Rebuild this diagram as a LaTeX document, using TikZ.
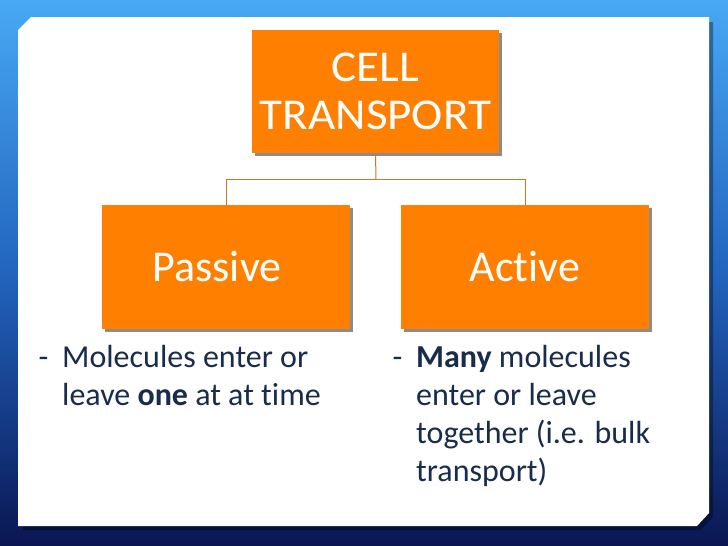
\documentclass[tikz,border=0pt]{standalone}
\usepackage{fontspec}
\usepackage{graphicx}
\setmainfont{Carlito}[Ligatures=NoCommon]
\usetikzlibrary{shadows}
\definecolor{boxorange}{RGB}{255,128,0}
\definecolor{linebrown}{RGB}{196,120,50}
\definecolor{textnavy}{RGB}{24,44,76}
\definecolor{bgtop}{RGB}{72,168,244}
\definecolor{bgmid}{RGB}{34,100,190}
\definecolor{bgbot}{RGB}{10,22,82}
\tikzset{
  orangebox/.style={draw=none, fill=boxorange, minimum width=248pt, minimum height=124pt,
    inner sep=0pt, text=white, align=center, font=\fontsize{44}{48}\selectfont,
    drop shadow={shadow xshift=3pt, shadow yshift=-3pt, fill=black, opacity=.45}},
  connector/.style={draw=linebrown, line width=1pt},
  bodytext/.style={anchor=base west, inner sep=0pt, text=textnavy, align=left,
    font=\fontsize{32}{38}\selectfont}
}
\begin{document}
\begin{tikzpicture}[x=1pt,y=-1pt]
\useasboundingbox (0,0) rectangle (728,546);
% background
\shade[top color=bgtop, bottom color=bgbot, middle color=bgmid] (0,0) rectangle (728,546);
% panel shadow
\fill[black, opacity=.35] (23,35) -- (36,22) -- (713,22) -- (713,517) -- (701,530) -- (23,530) -- cycle;
% panel
\fill[white] (18,30) -- (31,17) -- (709,17) -- (709,513) -- (697,526) -- (18,526) -- cycle;
% boxes
\node[orangebox, minimum width=247pt, minimum height=123pt] (top) at (375.5,91.5) {\scalebox{1.07}[1]{CELL}\\\scalebox{1.07}[1]{TRANSPORT}};
\node[orangebox] (passive) at (226,267) {Passive\hspace{18pt}};
\node[orangebox] (active) at (525,267) {Active};
% connectors
\coordinate (mid) at (376,179.5);
\draw[connector] (top.south) -- (mid);
\draw[connector] (passive.north) |- (mid) -| (active.north);
% body text
\node[bodytext] (ptext) at (38.5,367) {\makebox[23.5pt][l]{-}\parbox[t]{300pt}{\raggedright Molecules enter or\\leave \textbf{one} at at time}};
\node[bodytext] (atext) at (392.5,367) {\makebox[23.5pt][l]{-}\parbox[t]{300pt}{\raggedright \textbf{Many} molecules\\enter or leave\\together (i.e. bulk\\transport)}};
\end{tikzpicture}
\end{document}
